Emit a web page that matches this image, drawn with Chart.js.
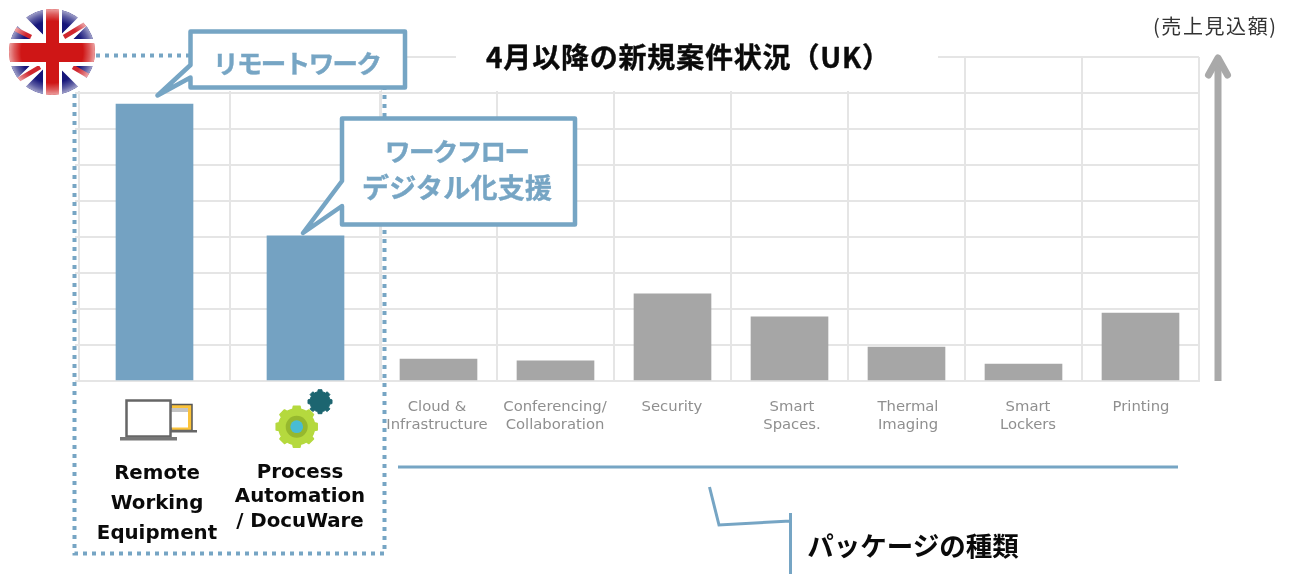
<!DOCTYPE html>
<html lang="ja">
<head>
<meta charset="utf-8">
<title>4月以降の新規案件状況（UK）</title>
<script src="https://cdn.jsdelivr.net/npm/chart.js@4"></script>
<style>
    html, body { margin: 0; padding: 0; background: #fff; overflow: hidden; }
    #stage { position: relative; width: 1293px; height: 574px; }
    #stage canvas, #stage svg { position: absolute; left: 0; top: 0; }
    svg text { font-family: "Noto Sans CJK JP", sans-serif; }
</style>
</head>
<body>
<div id="stage">
    <canvas id="focusChart" width="1293" height="574"></canvas>
    <canvas id="packageChart" width="1293" height="574"></canvas>
    <svg id="notes" width="1293" height="574" viewBox="0 0 1293 574"></svg>
</div>
<script>
// Bars with the callouts
const focusCategories = [
    ['Remote', 'Working', 'Equipment'],
    ['Process', 'Automation', '/ DocuWare']
];
const focusValues = [7.69, 4.03];

// Remaining package types
const packageCategories = [
    ['Cloud &', 'Infrastructure'],
    ['Conferencing/', 'Collaboration'],
    ['Security'],
    ['Smart', 'Spaces.'],
    ['Thermal', 'Imaging'],
    ['Smart', 'Lockers'],
    ['Printing']
];
const packageValues = [0.61, 0.56, 2.42, 1.78, 0.94, 0.47, 1.89];

const axisMax = 9;
const focusNudge = [[2.5, -1], [-5.5, 0.5]];
const packageNudge = [[-1.5, 0], [-0.5, 0], [-0.5, 0], [2.5, 0], [1.5, 0], [4.5, 0], [0.5, 0]];

const BLUE = '#74a2c2';
const GRAY = '#a6a6a6';
const GRID = '#e5e5e5';
const PLOT_TOP = 57;
const PLOT_BOTTOM = 381;

// labels sit a little off the bar centres, shift them once the scale has laid them out
const nudgeLabels = {
    id: 'nudgeLabels',
    afterLayout(chart, args, opts) {
        chart.scales.x.getLabelItems().forEach((item, i) => {
            const shift = opts.shift[i] || [0, 0];
            item.options.translation[0] += shift[0];
            item.options.translation[1] += shift[1];
        });
    }
};

function makeChart(id, config) {
    return new Chart(document.getElementById(id), {
        type: 'bar',
        data: {
            labels: config.labels,
            datasets: [{
                data: config.values,
                backgroundColor: config.color,
                barThickness: 77
            }]
        },
        options: {
            responsive: false,
            animation: false,
            devicePixelRatio: 1,
            layout: {
                autoPadding: false,
                padding: { left: config.left, right: 1293 - config.right, top: PLOT_TOP, bottom: 0 }
            },
            plugins: {
                legend: { display: false },
                tooltip: { enabled: false },
                nudgeLabels: { shift: config.nudge }
            },
            scales: {
                x: {
                    afterFit: (scale) => {
                        scale.height = 574 - PLOT_BOTTOM;
                        // the plot edges are fixed, wide labels must not push them in
                        scale.paddingLeft = 0;
                        scale.paddingRight = 0;
                    },
                    border: { color: GRID, width: 2 },
                    grid: { color: GRID, lineWidth: 2, drawTicks: false, offset: true },
                    ticks: {
                        padding: config.tickPadding,
                        color: config.tickColor,
                        font: config.tickFont,
                        maxRotation: 0,
                        autoSkip: false
                    }
                },
                y: {
                    min: 0,
                    max: axisMax,
                    afterFit: (scale) => { scale.width = config.stub; },
                    border: { display: false },
                    grid: { color: GRID, lineWidth: 2, tickLength: config.stub, drawTicks: config.stub > 0 },
                    ticks: { display: false, stepSize: 1 }
                }
            }
        },
        plugins: [nudgeLabels]
    });
}

makeChart('focusChart', {
    labels: focusCategories,
    values: focusValues,
    color: BLUE,
    left: 75,
    right: 381,
    stub: 4,
    nudge: focusNudge,
    tickPadding: 79,
    tickColor: '#0a0a0a',
    tickFont: (ctx) => ({
        family: '"DejaVu Sans", sans-serif',
        weight: 'bold',
        size: 19.8,
        lineHeight: ctx.index === 0 ? 30 / 19.8 : 24.5 / 19.8
    })
});

makeChart('packageChart', {
    labels: packageCategories,
    values: packageValues,
    color: GRAY,
    left: 380,
    right: 1199,
    stub: 0,
    nudge: packageNudge,
    tickPadding: 17,
    tickColor: '#8f8f8f',
    tickFont: { family: '"DejaVu Sans", sans-serif', size: 14.8, lineHeight: 18 / 14.8 }
});

// gear outline, the stroke rounds the tooth corners
function gearPath(cx, cy, outer, root, teeth) {
    const pts = [];
    const step = Math.PI * 2 / teeth;
    for (let i = 0; i < teeth; i++) {
        const a = i * step - Math.PI / 2;
        [[-0.5, root], [-0.28, root], [-0.2, outer], [0.2, outer], [0.28, root]].forEach(([f, r]) => {
            pts.push((cx + r * Math.cos(a + f * step)).toFixed(1) + ' ' + (cy + r * Math.sin(a + f * step)).toFixed(1));
        });
    }
    return 'M' + pts.join('L') + 'Z';
}

const noteColor = '#76a5c4';
document.getElementById('notes').innerHTML = `
    <defs>
        <clipPath id="flagClip"><circle cx="52" cy="52" r="43"/></clipPath>
        <radialGradient id="flagRim" cx="50%" cy="50%" r="50%">
            <stop offset="0.72" stop-color="#fff" stop-opacity="0"/>
            <stop offset="0.88" stop-color="#fff" stop-opacity="0.3"/>
            <stop offset="1" stop-color="#fff" stop-opacity="0.6"/>
        </radialGradient>
        <filter id="soft"><feGaussianBlur stdDeviation="0.5"/></filter>
    </defs>

    <!-- blank strips above the upper gridline, behind the callout and the heading -->
    <rect x="76" y="38" width="305" height="53" fill="#fff"/>
    <rect x="456" y="38" width="482" height="53" fill="#fff"/>
    <text x="486" y="68" font-size="28" font-weight="700" fill="#0a0a0a" stroke="#0a0a0a" stroke-width="0.4" textLength="404" lengthAdjust="spacing">4月以降の新規案件状況（UK）</text>
    <text x="1153" y="34" font-size="20" fill="#333" textLength="123" lengthAdjust="spacing">(売上見込額)</text>

    <!-- value direction arrow -->
    <g stroke="#a9a9a9" stroke-width="7" fill="none" stroke-linecap="round" stroke-linejoin="round">
        <path d="M1218 381V60" stroke-linecap="butt"/>
        <path d="M1208.5 75L1218 58L1227.5 75"/>
    </g>

    <!-- dotted frame around the two main packages -->
    <path d="M96 55.5H190 M74.5 94V553.5H384.5V88" fill="none" stroke="${noteColor}" stroke-width="4" stroke-dasharray="4 5"/>

    <!-- callouts -->
    <g fill="#fff" stroke="${noteColor}" stroke-width="4.5" stroke-linejoin="round">
        <path d="M190.5 31.5H405V87.5H190.5V77.5L157.5 95.5L190.5 65Z"/>
        <path d="M342 118.5H575V224.5H342V206L303 233L342 181Z"/>
    </g>
    <g fill="${noteColor}" stroke="${noteColor}" stroke-width="0.4" font-weight="700">
        <text x="213" y="73" font-size="25.5" textLength="169" lengthAdjust="spacing">リモートワーク</text>
        <text x="385" y="161" font-size="25.5" textLength="145" lengthAdjust="spacing">ワークフロー</text>
        <text x="362" y="198" font-size="27" textLength="190" lengthAdjust="spacing">デジタル化支援</text>
    </g>

    <!-- bracket and caption under the axis -->
    <path d="M398 467H1178" stroke="${noteColor}" stroke-width="3"/>
    <path d="M709.5 487L719 525L790.5 521 M790.5 513V574" fill="none" stroke="${noteColor}" stroke-width="3"/>
    <text x="913" y="556" text-anchor="middle" font-size="26.5" font-weight="700" fill="#0a0a0a">パッケージの種類</text>

    <!-- union flag badge -->
    <g clip-path="url(#flagClip)">
        <g filter="url(#soft)">
            <rect x="9" y="9" width="86" height="86" fill="#14147a"/>
            <path d="M9 9L95 95M95 9L9 95" stroke="#fff" stroke-width="12"/>
            <path d="M15 29L31 37M87 23L64 37M18 80L40 67M90 77L73 67" stroke="#d0282f" stroke-width="4.5"/>
            <rect x="9" y="39" width="86" height="27" fill="#fff"/>
            <rect x="43" y="9" width="19" height="86" fill="#fff"/>
            <rect x="9" y="43" width="86" height="19" fill="#cf1414"/>
            <rect x="46" y="9" width="13" height="86" fill="#cf1414"/>
        </g>
        <circle cx="52" cy="52" r="43" fill="url(#flagRim)"/>
    </g>

    <!-- laptop and window icon -->
    <g>
        <rect x="171" y="404.5" width="21" height="26" fill="#fbc33a" stroke="#555" stroke-width="1.5"/>
        <rect x="170" y="408" width="18" height="19.5" fill="#fff"/>
        <rect x="170" y="408" width="18" height="4" fill="#c4c4c4"/>
        <rect x="170" y="430" width="27" height="2.5" fill="#666"/>
        <rect x="126.5" y="400.5" width="44" height="36" fill="#fff" stroke="#666" stroke-width="2.5"/>
        <rect x="120" y="437" width="57" height="3.5" fill="#777"/>
    </g>

    <!-- gear icon -->
    <path d="${gearPath(320, 401.7, 12.2, 10.2, 8)}" fill="#1c6570" stroke="#1c6570" stroke-linejoin="round"/>
    <path d="${gearPath(296.7, 426.7, 20.8, 18, 8)}" fill="#b5d93e" stroke="#b5d93e" stroke-linejoin="round" stroke-width="1.5"/>
    <circle cx="296.7" cy="426.7" r="11" fill="#96b82e"/>
    <circle cx="296.7" cy="426.7" r="6.4" fill="#49bcd3"/>
`;
</script>
</body>
</html>
